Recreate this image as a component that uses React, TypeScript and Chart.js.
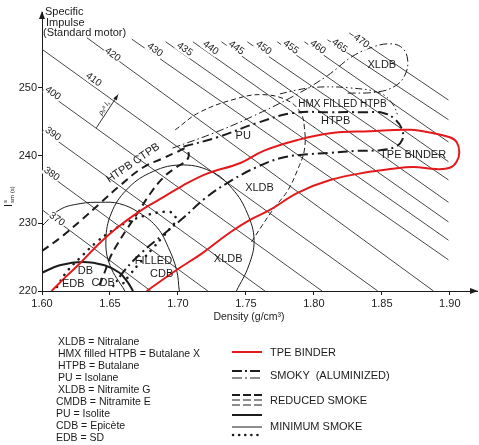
import React, { useEffect, useRef } from 'react';
import { Chart, registerables } from 'chart.js';

Chart.register(...registerables);

const FONT = '"Liberation Sans", Arial, Helvetica, sans-serif';

// ---------- axes ----------
const xTicks = [1.6, 1.65, 1.7, 1.75, 1.8, 1.85, 1.9];
const yTicks = [220, 230, 240, 250];
const X_MIN = 1.6;
const X_MAX = 1.92;
const Y_MIN = 220;
const Y_MAX = 261.2;

// ---------- iso (density x impulse) lines ----------
const isoLabels = ['370', '380', '390', '400', '410', '420', '430', '435', '440', '445', '450', '455', '460', '465', '470'];
const isoStartDensity = [1.6, 1.6, 1.6, 1.6, 1.6, 1.633, 1.666, 1.691, 1.711, 1.732, 1.751, 1.773, 1.793, 1.81, 1.826];
const isoStartIsp = [232.0, 237.9, 243.8, 249.8, 255.7, 257.4, 257.2, 256.8, 256.8, 256.8, 256.8, 256.8, 256.8, 257.1, 258.1];
const isoEndDensity = [1.68, 1.722, 1.764, 1.806, 1.847, 1.888, 1.899, 1.899, 1.899, 1.899, 1.899, 1.899, 1.899, 1.899, 1.899];
const isoEndIsp = [220, 220, 220, 220, 220, 220, 224.6, 227.5, 230.2, 233.1, 236.4, 239.1, 242.0, 245.3, 248.2];
const isoLabelDensity = [1.611, 1.607, 1.608, 1.608, 1.638, 1.652, 1.683, 1.705, 1.724, 1.743, 1.763, 1.783, 1.803, 1.819, 1.835];
const isoLabelIsp = [230.6, 237.3, 243.2, 249.2, 251.2, 254.9, 255.6, 255.7, 255.9, 255.9, 255.9, 256.0, 256.0, 256.2, 256.9];

// ---------- TPE binder (red) ----------
const tpeDensity = [1.607, 1.618, 1.628, 1.641, 1.655, 1.672, 1.687, 1.703, 1.721, 1.746, 1.763, 1.788, 1.812, 1.841, 1.871, 1.888, 1.9, 1.905, 1.907, 1.905, 1.9, 1.89, 1.873, 1.856, 1.841, 1.812, 1.788, 1.768, 1.753, 1.738, 1.718, 1.699, 1.677];
const tpeIsp = [220.0, 222.2, 224.1, 226.8, 229.3, 231.8, 233.6, 235.5, 237.3, 238.9, 240.7, 242.3, 243.3, 243.6, 243.8, 243.3, 242.7, 242.0, 240.5, 239.1, 238.2, 238.0, 238.3, 238.0, 237.6, 236.4, 234.5, 232.0, 230.5, 228.6, 225.6, 223.1, 220.0];

// ---------- XLDB (Nitralane) region, smoky ----------
const xldbTopDensity = [1.696, 1.726, 1.755, 1.788, 1.81, 1.828, 1.843, 1.856, 1.865, 1.869, 1.867, 1.86, 1.847, 1.823];
const xldbTopIsp = [241.1, 243.3, 245.8, 249.1, 251.8, 254.6, 256.0, 256.5, 255.9, 254.1, 251.9, 250.3, 249.4, 249.2];

// ---------- PU / XLDB ellipse, reduced smoke ----------
const puDensity = [1.698, 1.716, 1.743, 1.762, 1.78, 1.79, 1.793, 1.793, 1.788, 1.781, 1.771, 1.762, 1.754];
const puIsp = [243.8, 246.4, 248.4, 249.0, 248.2, 246.4, 244.2, 240.8, 237.9, 234.9, 232.3, 229.7, 227.2];

// ---------- HMX filled HTPB ----------
const hmxDensity = [1.775, 1.788, 1.802, 1.826, 1.849, 1.858, 1.862];
const hmxIsp = [249.1, 249.7, 250.1, 250.0, 249.2, 247.6, 245.8];

// ---------- HTPB, smoky ----------
const htpbDensity = [1.704, 1.729, 1.758, 1.785, 1.812, 1.836, 1.851, 1.86, 1.865, 1.865, 1.86, 1.849, 1.832, 1.812, 1.79, 1.775, 1.758, 1.74, 1.72, 1.704, 1.689, 1.674, 1.661, 1.652];
const htpbIsp = [241.3, 242.7, 244.8, 246.3, 246.4, 246.4, 246.3, 245.3, 243.8, 242.3, 241.3, 240.8, 240.7, 240.4, 240.1, 239.6, 238.3, 236.4, 233.7, 230.8, 228.3, 225.8, 223.1, 220.6];

// ---------- HTPB CTPB, reduced smoke ----------
const ctpbDensity = [1.6, 1.615, 1.629, 1.643, 1.657, 1.674, 1.689, 1.699, 1.705, 1.708, 1.706, 1.699, 1.689, 1.679, 1.671, 1.663, 1.656, 1.65, 1.646, 1.641];
const ctpbIsp = [225.9, 228.1, 230.5, 233.0, 235.5, 238.2, 239.6, 240.5, 241.0, 240.2, 239.2, 238.3, 236.7, 234.2, 231.7, 229.3, 227.1, 224.9, 222.7, 220.3];

// ---------- Filled CDB, dotted ----------
const fcdbDensity = [1.611, 1.618, 1.628, 1.64, 1.65, 1.663, 1.677, 1.69, 1.697, 1.698, 1.694, 1.688, 1.681, 1.673, 1.665, 1.657];
const fcdbIsp = [220.6, 222.8, 224.9, 227.2, 228.7, 230.2, 231.2, 231.7, 231.4, 230.3, 229.2, 227.8, 226.2, 224.4, 222.5, 220.4];

// ---------- DB (thick solid) ----------
const dbDensity = [1.6, 1.613, 1.63, 1.646, 1.657, 1.663, 1.667];
const dbIsp = [222.7, 223.8, 224.3, 223.8, 222.7, 221.3, 220.0];

// ---------- CMDB arc (thin solid) ----------
const cmdbDensity = [1.6, 1.613, 1.628, 1.643, 1.657, 1.672, 1.685, 1.693, 1.699, 1.701];
const cmdbIsp = [229.6, 232.0, 232.9, 233.1, 232.9, 231.5, 229.3, 226.4, 223.1, 220.0];

// ---------- XLDB (Nitramite G) arc (thin solid) ----------
const xldbGDensity = [1.661, 1.65, 1.647, 1.651, 1.662, 1.679, 1.701, 1.724, 1.74, 1.751, 1.756, 1.752, 1.743];
const xldbGIsp = [220.0, 223.8, 227.5, 231.5, 234.9, 237.4, 238.6, 237.7, 235.1, 231.5, 227.5, 223.7, 220.0];

// ---------- arrow ----------
const arrowDensity = [1.64, 1.656];
const arrowIsp = [244.1, 249.0];

// ---------- region labels ----------
const regionNames = ['XLDB', 'HMX FILLED HTPB', 'HTPB', 'PU', 'TPE BINDER', 'XLDB', 'XLDB', 'FILLED', 'CDB', 'DB', 'EDB', 'CDB'];
const regionDensity = [1.85, 1.821, 1.816, 1.748, 1.873, 1.76, 1.737, 1.682, 1.688, 1.632, 1.623, 1.645];
const regionIsp = [253.4, 247.6, 245.1, 242.9, 240.1, 235.2, 224.7, 224.4, 222.5, 223.0, 221.0, 221.2];
const ctpbLabel = 'HTPB CTPB';
const ctpbLabelDensity = 1.667;
const ctpbLabelIsp = 238.9;

// ---------- key ----------
const keyNames = ['XLDB = Nitralane', 'HMX filled HTPB = Butalane X', 'HTPB = Butalane', 'PU = Isolane', 'XLDB = Nitramite G', 'CMDB = Nitramite E', 'PU = Isolite', 'CDB = Epicète', 'EDB = SD'];
const styleNames = ['TPE BINDER', 'SMOKY  (ALUMINIZED)', 'REDUCED SMOKE', 'MINIMUM SMOKE'];

const RED = '#e3191c';
const INK = '#1c1c1c';

const pts = (xs: number[], ys: number[]) => xs.map((x, i) => ({ x, y: ys[i] }));

export default function App() {
  const ref = useRef<HTMLCanvasElement | null>(null);

  useEffect(() => {
    const canvas = ref.current;
    if (!canvas) return;

    const curve = (data: any, color: string, width: number, dash: number[], order: number, cap: any = 'butt') => ({
      data,
      showLine: true,
      borderColor: color,
      backgroundColor: color,
      borderWidth: width,
      borderDash: dash,
      borderCapStyle: cap,
      pointRadius: 0,
      pointHoverRadius: 0,
      tension: 0.4,
      fill: false,
      order,
    });

    const isoSets = isoLabels.map((_, i) => ({
      ...curve(pts([isoStartDensity[i], isoEndDensity[i]], [isoStartIsp[i], isoEndIsp[i]]), '#333333', 0.9, [], 5),
      tension: 0,
    }));

    const datasets: any[] = [
      ...isoSets,
      curve(pts(xldbGDensity, xldbGIsp), INK, 1, [], 3),
      curve(pts(cmdbDensity, cmdbIsp), INK, 1, [], 3),
      curve(pts(dbDensity, dbIsp), INK, 2, [], 3),
      curve(pts(fcdbDensity, fcdbIsp), INK, 2.6, [0.1, 7], 3, 'round'),
      curve(pts(ctpbDensity, ctpbIsp), INK, 2, [8, 5], 2),
      curve(pts(htpbDensity, htpbIsp), INK, 2, [10, 4, 2, 4], 2),
      curve(pts(hmxDensity, hmxIsp), INK, 1, [7, 3, 1.5, 3, 1.5, 3], 2),
      curve(pts(puDensity, puIsp), INK, 1, [5, 3], 2),
      curve(pts(xldbTopDensity, xldbTopIsp), INK, 1, [8, 3, 1.5, 3], 2),
      curve(pts(tpeDensity, tpeIsp), RED, 2, [], 0),
    ];

    const annot = {
      id: 'annot',
      afterDatasetsDraw(chart: any) {
        const { ctx, chartArea } = chart;
        const xs = chart.scales.x;
        const ys = chart.scales.y;
        const px = (v: number) => xs.getPixelForValue(v);
        const py = (v: number) => ys.getPixelForValue(v);
        ctx.save();

        // iso labels
        ctx.font = `10px ${FONT}`;
        ctx.textAlign = 'center';
        ctx.textBaseline = 'middle';
        isoLabels.forEach((lab, i) => {
          ctx.save();
          ctx.translate(px(isoLabelDensity[i]), py(isoLabelIsp[i]));
          ctx.rotate(0.62);
          const w = ctx.measureText(lab).width;
          ctx.fillStyle = '#fff';
          ctx.fillRect(-w / 2 - 1, -5, w + 2, 10);
          ctx.fillStyle = INK;
          ctx.fillText(lab, 0, 0);
          ctx.restore();
        });

        // region labels
        ctx.fillStyle = INK;
        regionNames.forEach((lab, i) => {
          ctx.font = lab.length > 12 ? `10px ${FONT}` : `11px ${FONT}`;
          ctx.fillText(lab, px(regionDensity[i]), py(regionIsp[i]));
        });
        ctx.save();
        ctx.translate(px(ctpbLabelDensity), py(ctpbLabelIsp));
        ctx.rotate(-0.6);
        ctx.font = `11px ${FONT}`;
        ctx.fillText(ctpbLabel, 0, 0);
        ctx.restore();

        // density-impulse arrow
        const ax0 = px(arrowDensity[0]);
        const ay0 = py(arrowIsp[0]);
        const ax1 = px(arrowDensity[1]);
        const ay1 = py(arrowIsp[1]);
        const ang = Math.atan2(ay1 - ay0, ax1 - ax0);
        ctx.strokeStyle = INK;
        ctx.lineWidth = 0.9;
        ctx.beginPath();
        ctx.moveTo(ax0, ay0);
        ctx.lineTo(ax1, ay1);
        ctx.stroke();
        ctx.beginPath();
        ctx.moveTo(ax1, ay1);
        ctx.lineTo(ax1 - 6 * Math.cos(ang - 0.35), ay1 - 6 * Math.sin(ang - 0.35));
        ctx.lineTo(ax1 - 6 * Math.cos(ang + 0.35), ay1 - 6 * Math.sin(ang + 0.35));
        ctx.closePath();
        ctx.fill();
        ctx.save();
        ctx.translate((ax0 + ax1) / 2 - 3, (ay0 + ay1) / 2 - 3);
        ctx.rotate(ang);
        ctx.font = `italic 7px ${FONT}`;
        ctx.fillText('ρₐᵃ Iₛ', 0, 0);
        ctx.restore();

        // axis arrows
        ctx.fillStyle = INK;
        ctx.beginPath();
        ctx.moveTo(chartArea.left, chartArea.top - 1);
        ctx.lineTo(chartArea.left - 3, chartArea.top + 7);
        ctx.lineTo(chartArea.left + 3, chartArea.top + 7);
        ctx.closePath();
        ctx.fill();
        ctx.beginPath();
        ctx.moveTo(chartArea.right + 1, chartArea.bottom);
        ctx.lineTo(chartArea.right - 7, chartArea.bottom - 3);
        ctx.lineTo(chartArea.right - 7, chartArea.bottom + 3);
        ctx.closePath();
        ctx.fill();

        // top-left axis title
        ctx.textAlign = 'left';
        ctx.textBaseline = 'alphabetic';
        ctx.font = `11px ${FONT}`;
        ctx.fillText('Specific', chartArea.left + 3, chartArea.top + 3);
        ctx.fillText('Impulse', chartArea.left + 4, chartArea.top + 13.5);
        ctx.fillText('(Standard motor)', chartArea.left + 1, chartArea.top + 24);

        // x title
        ctx.textAlign = 'center';
        ctx.font = `10.5px ${FONT}`;
        ctx.fillText('Density (g/cm³)', 249, chartArea.bottom + 29);

        // y title (rotated)
        ctx.save();
        ctx.translate(12, chartArea.top + 188);
        ctx.rotate(-Math.PI / 2);
        ctx.textAlign = 'left';
        ctx.font = `11px ${FONT}`;
        ctx.fillText('I', -7, 0);
        ctx.font = `6px ${FONT}`;
        ctx.fillText('s', -3, -5);
        ctx.fillText('sm (s)', -3, 2);
        ctx.restore();

        ctx.restore();
      },
    };

    const chart = new Chart(canvas, {
      type: 'scatter',
      data: { datasets },
      options: {
        responsive: false,
        animation: false,
        events: [],
        layout: { padding: { left: 0, top: 12, right: 2, bottom: 0 } },
        plugins: { legend: { display: false }, tooltip: { enabled: false } },
        scales: {
          x: {
            type: 'linear',
            min: X_MIN,
            max: X_MAX,
            afterBuildTicks: (axis: any) => {
              axis.ticks = xTicks.map((v) => ({ value: v }));
            },
            afterFit: (scale: any) => {
              scale.height = 154;
            },
            ticks: {
              color: INK,
              font: { family: FONT, size: 11 },
              padding: 2,
              maxRotation: 0,
              autoSkip: false,
              callback: (v: any) => Number(v).toFixed(2),
            },
            grid: { drawOnChartArea: false, drawTicks: true, tickLength: 4, color: INK },
            border: { display: true, color: INK, width: 1 },
          },
          y: {
            type: 'linear',
            min: Y_MIN,
            max: Y_MAX,
            afterBuildTicks: (axis: any) => {
              axis.ticks = yTicks.map((v) => ({ value: v }));
            },
            afterFit: (scale: any) => {
              scale.width = 42;
            },
            ticks: {
              color: INK,
              font: { family: FONT, size: 11 },
              padding: 1,
              autoSkip: false,
              callback: (v: any) => String(v),
            },
            grid: { drawOnChartArea: false, drawTicks: true, tickLength: 4, color: INK },
            border: { display: true, color: INK, width: 1 },
          },
        },
      },
      plugins: [annot],
    });

    return () => chart.destroy();
  }, []);

  const keyStyle = (top: number, left: number, size: number): React.CSSProperties => ({
    position: 'absolute',
    left,
    top,
    font: `${size}px ${FONT}`,
    lineHeight: '12px',
    whiteSpace: 'pre',
    color: INK,
  });

  const styleTops = [352, 375, 400, 426];

  return (
    <div style={{ position: 'absolute', left: 0, top: 0, width: 479, height: 445, background: '#fff', overflow: 'hidden' }}>
      <canvas ref={ref} width={479} height={445} style={{ display: 'block', width: 479, height: 445 }} />
      {keyNames.map((t, i) => (
        <div key={'k' + i} style={keyStyle(334.7 + i * 12.07, i >= 5 ? 56 : 58, 10.5)}>
          {t}
        </div>
      ))}
      {styleNames.map((t, i) => (
        <div key={'s' + i} style={keyStyle(styleTops[i] - 6.5, 270, 11)}>
          {t}
        </div>
      ))}
      <svg style={{ position: 'absolute', left: 230, top: 345 }} width={36} height={96}>
        <line x1={2} y1={7} x2={32} y2={7} stroke={RED} strokeWidth={2} />
        <line x1={2} y1={26} x2={32} y2={26} stroke={INK} strokeWidth={2} strokeDasharray="10 3 2 3" />
        <line x1={2} y1={33} x2={32} y2={33} stroke={INK} strokeWidth={1} strokeDasharray="10 3 2 3" />
        <line x1={2} y1={50} x2={32} y2={50} stroke={INK} strokeWidth={2} strokeDasharray="8 3" />
        <line x1={2} y1={55} x2={32} y2={55} stroke={INK} strokeWidth={1} strokeDasharray="8 3" />
        <line x1={2} y1={60} x2={32} y2={60} stroke={INK} strokeWidth={1} strokeDasharray="8 3" />
        <line x1={2} y1={70} x2={32} y2={70} stroke={INK} strokeWidth={2} />
        <line x1={2} y1={82} x2={32} y2={82} stroke={INK} strokeWidth={1} />
        <line x1={3} y1={90} x2={32} y2={90} stroke={INK} strokeWidth={2.5} strokeDasharray="0.1 6" strokeLinecap="round" />
      </svg>
    </div>
  );
}
